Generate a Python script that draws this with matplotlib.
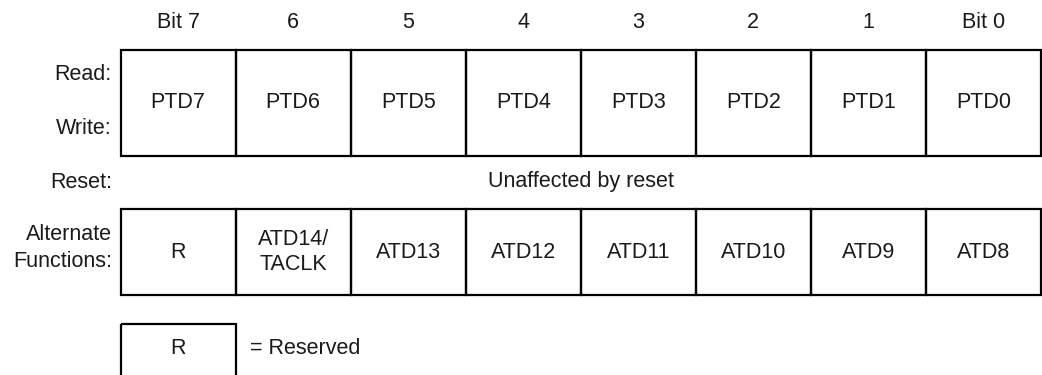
import matplotlib.pyplot as plt
from matplotlib.patches import Rectangle
from matplotlib import font_manager

# register contents
bit_labels = ['Bit 7', '6', '5', '4', '3', '2', '1', 'Bit 0']
data_fields = ['PTD7', 'PTD6', 'PTD5', 'PTD4', 'PTD3', 'PTD2', 'PTD1', 'PTD0']
alt_fields = ['R', 'ATD14/\nTACLK', 'ATD13', 'ATD12', 'ATD11', 'ATD10', 'ATD9', 'ATD8']
reset_text = 'Unaffected by reset'

names = {f.name for f in font_manager.fontManager.ttflist}
fam = 'Liberation Sans Narrow' if 'Liberation Sans Narrow' in names else 'Liberation Sans'
plt.rcParams['font.family'] = [fam, 'DejaVu Sans']

fig = plt.figure(figsize=(10.42, 3.75), dpi=100)
ax = fig.add_axes([0, 0, 1, 1])
ax.set_xlim(0, 1042)
ax.set_ylim(375, 0)
ax.axis('off')

x0 = 120.5
w = (1041 - x0) / 8
lw = 1.6
fs = 15.5
tc = '#1a1a1a'

def cell(i, y, h, txt):
    ax.add_patch(Rectangle((x0 + i * w, y), w, h, fill=False, lw=lw, ec='black'))
    ax.text(x0 + (i + 0.5) * w, y + h / 2, txt, ha='center', va='center',
            fontsize=fs, color=tc, linespacing=1.2)

# bit numbers
for i, b in enumerate(bit_labels):
    ax.text(x0 + (i + 0.5) * w, 22, b, ha='center', va='center', fontsize=fs, color=tc)

# read / write row
for i, t in enumerate(data_fields):
    cell(i, 49.5, 106, t)
ax.text(112, 75, 'Read:', ha='right', va='center', fontsize=fs, color=tc)
ax.text(112, 128, 'Write:', ha='right', va='center', fontsize=fs, color=tc)

# reset row
ax.text(112, 182, 'Reset:', ha='right', va='center', fontsize=fs, color=tc)
ax.text(x0 + 4 * w, 182, reset_text, ha='center', va='center', fontsize=fs, color=tc)

# alternate functions row
for i, t in enumerate(alt_fields):
    cell(i, 209, 86, t)
ax.text(112, 248, 'Alternate\nFunctions:', ha='right', va='center', fontsize=fs,
        color=tc, linespacing=1.4)

# legend box
ax.add_patch(Rectangle((x0, 323.5), w, 60, fill=False, lw=lw, ec='black', clip_on=True))
ax.text(x0 + w / 2, 348, 'R', ha='center', va='center', fontsize=fs, color=tc)
ax.text(250, 348, '= Reserved', ha='left', va='center', fontsize=fs, color=tc)

fig.savefig('out.png', dpi=100)
